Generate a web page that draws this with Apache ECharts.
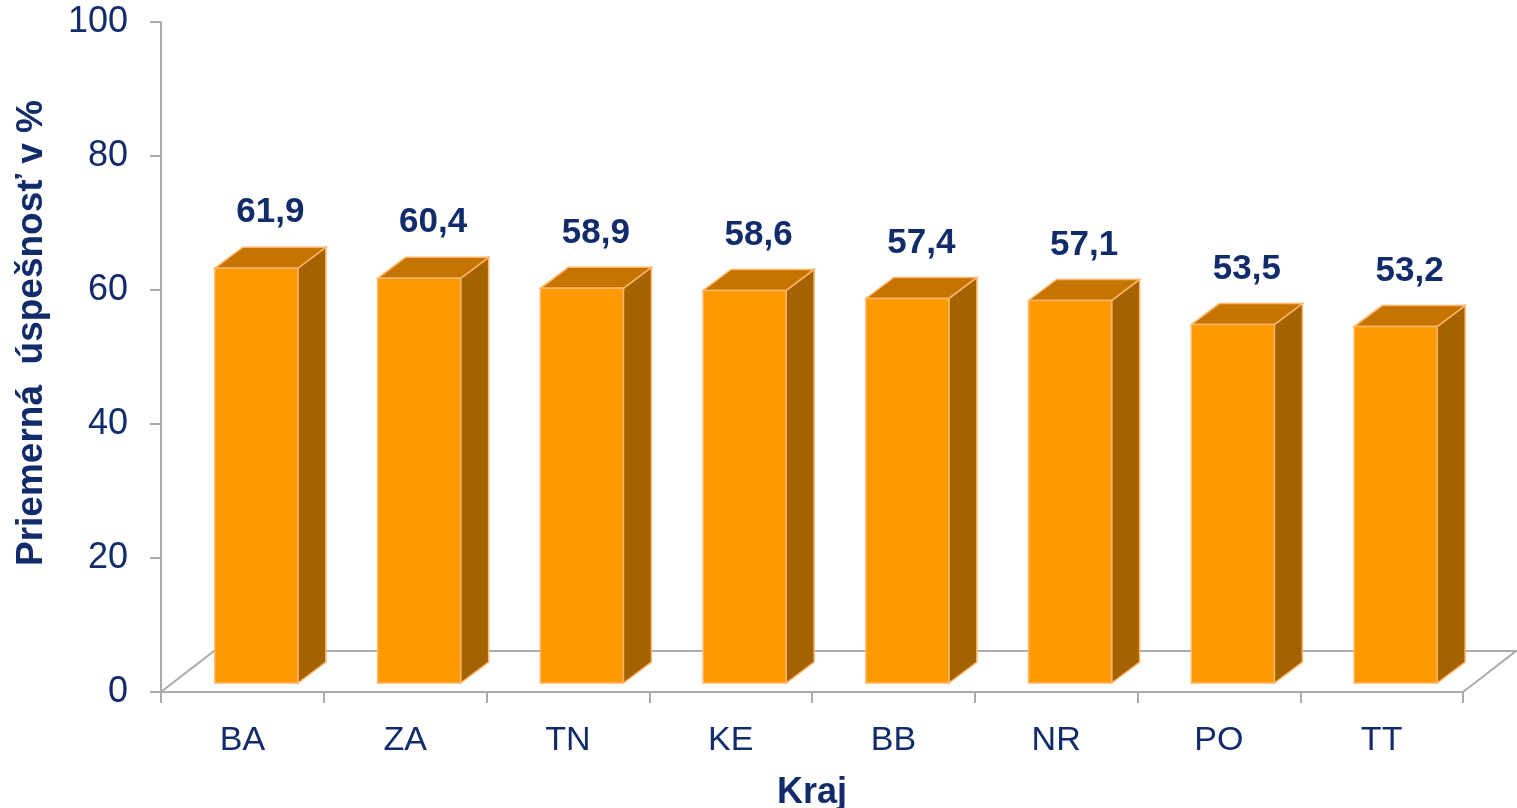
<!DOCTYPE html>
<html>
<head>
<meta charset="utf-8">
<script src="https://cdn.jsdelivr.net/npm/echarts@6/dist/echarts.min.js"></script>
<style>
html,body{margin:0;padding:0;background:#fff;}
#chart{width:1517px;height:808px;}
</style>
</head>
<body>
<div id="chart"></div>
<script>
const categories = ['BA', 'ZA', 'TN', 'KE', 'BB', 'NR', 'PO', 'TT'];
const values = [61.9, 60.4, 58.9, 58.6, 57.4, 57.1, 53.5, 53.2];
const valueLabels = ['61,9', '60,4', '58,9', '58,6', '57,4', '57,1', '53,5', '53,2'];
const yAxisTitle = 'Priemerná  úspešnosť v %';
const xAxisTitle = 'Kraj';

const NAVY = '#112B6B';
const GRID_GREY = '#ABABAB';
const FONT = '"Liberation Sans", Arial, sans-serif';

const chart = echarts.init(document.getElementById('chart'));

function renderBar(params, api) {
  const idx = api.value(0);
  const v = api.value(1);
  const top = api.coord([idx, v]);
  const base = api.coord([idx, 0]);
  const band = api.size([1, 0])[0];
  const w = band * 0.51;
  const shiftX = 14, shiftY = -9;
  const dx = 28, dy = -21;
  const fl = top[0] - w / 2 + shiftX;
  const ft = top[1] + shiftY;
  const fb = base[1] + shiftY;
  const stroke = '#FFB56A';
  return {
    type: 'group',
    children: [
      { type: 'polygon', shape: { points: [[fl + w, ft], [fl + w + dx, ft + dy], [fl + w + dx, fb + dy], [fl + w, fb]] },
        style: { fill: '#A46300', stroke: stroke, lineWidth: 1.5 } },
      { type: 'polygon', shape: { points: [[fl, ft], [fl + w, ft], [fl + w + dx, ft + dy], [fl + dx, ft + dy]] },
        style: { fill: '#C57400', stroke: stroke, lineWidth: 1.5 } },
      { type: 'rect', shape: { x: fl, y: ft, width: w, height: fb - ft },
        style: { fill: '#FF9900', stroke: stroke, lineWidth: 1.5 } },
      { type: 'text', x: fl + w / 2 + dx / 2, y: ft + dy - 17,
        style: { text: valueLabels[params.dataIndex], fill: NAVY, font: 'bold 35px ' + FONT, align: 'center', verticalAlign: 'bottom' } }
    ]
  };
}

function renderFloor(params, api) {
  const cs = params.coordSys;
  const yb = cs.y + cs.height;
  const x0 = cs.x, x1 = cs.x + cs.width;
  const dx = 53, dy = -41;
  return {
    type: 'polyline',
    shape: { points: [[x0, yb], [x0 + dx, yb + dy], [x1 + dx, yb + dy], [x1, yb]] },
    style: { fill: null, stroke: GRID_GREY, lineWidth: 2 }
  };
}

chart.setOption({
  backgroundColor: '#ffffff',
  animation: false,
  grid: { left: 161, right: 54, top: 22, bottom: 116, containLabel: false, outerBoundsMode: 'none' },
  graphic: [
    { type: 'text', x: 32, y: 333, rotation: Math.PI / 2,
      style: { text: yAxisTitle, fill: NAVY, font: 'bold 37px ' + FONT, align: 'center', verticalAlign: 'middle' } }
  ],
  xAxis: {
    type: 'category',
    data: categories,
    axisLine: { show: true, lineStyle: { color: GRID_GREY, width: 2 } },
    axisTick: { show: true, length: 11, lineStyle: { color: GRID_GREY, width: 2 } },
    axisLabel: { color: NAVY, fontSize: 34, fontFamily: FONT, margin: 32 },
    name: xAxisTitle,
    nameLocation: 'middle',
    nameGap: 83,
    nameTextStyle: { color: NAVY, fontSize: 36, fontWeight: 'bold', fontFamily: FONT }
  },
  yAxis: {
    type: 'value',
    min: 0, max: 100, interval: 20,
    axisLine: { show: true, lineStyle: { color: GRID_GREY, width: 2 } },
    axisTick: { show: true, length: 11, lineStyle: { color: GRID_GREY, width: 2 } },
    splitLine: { show: false },
    axisLabel: { color: NAVY, fontSize: 36, fontFamily: FONT, margin: 33 }
  },
  series: [
    { type: 'custom', renderItem: renderFloor, data: [[0, 0]], clip: false, z: 1, silent: true },
    { type: 'custom', renderItem: renderBar, data: values.map((v, i) => [i, v]), clip: false, z: 2,
      encode: { x: 0, y: 1 } }
  ]
});
</script>
</body>
</html>
